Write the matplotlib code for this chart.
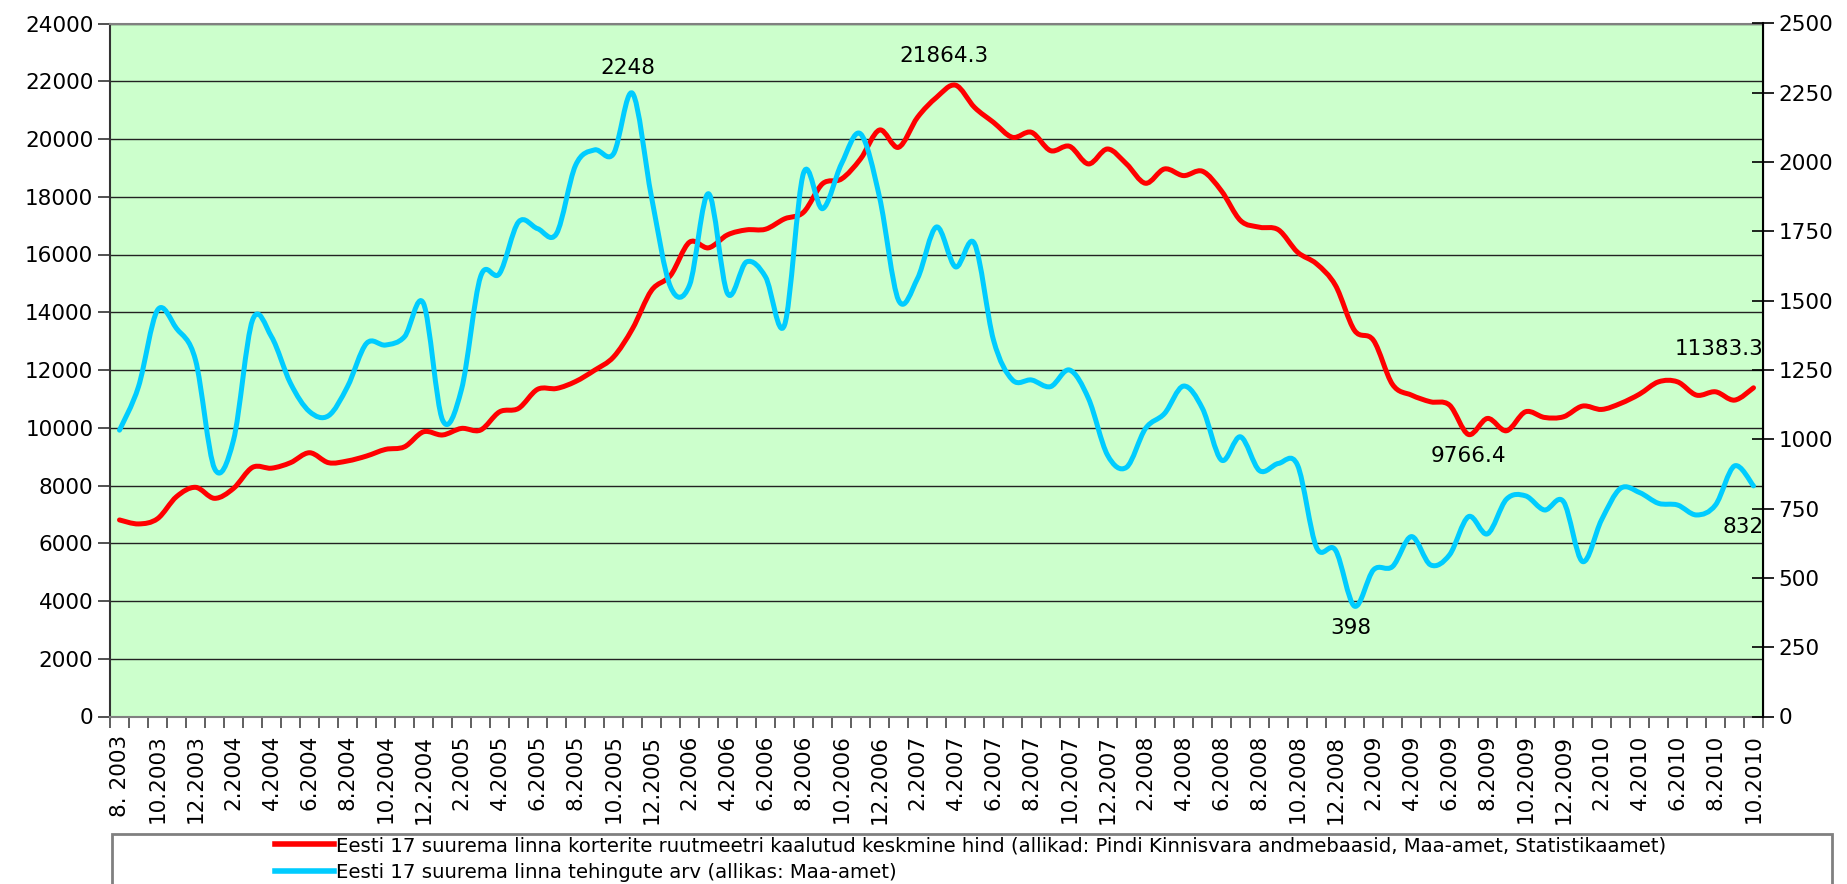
import numpy as np
import matplotlib
matplotlib.use("Agg")
import matplotlib.pyplot as plt
from matplotlib.path import Path
from matplotlib.patches import PathPatch, Rectangle
from matplotlib.lines import Line2D
from matplotlib.ticker import FixedLocator, MultipleLocator

# Kuine andmed 8.2003 .. 10.2010 (87 kuud)
hind = [6807, 6669, 6850, 7614, 7937, 7556, 7900, 8628, 8600, 8790,
        9135, 8790, 8850, 9020, 9250, 9340, 9860, 9750, 9977, 9920,
        10550, 10670, 11330, 11360, 11600, 11990, 12450, 13430, 14755, 15274,
        16427, 16231, 16680, 16853, 16876, 17234, 17464, 18450, 18617, 19309,
        20311, 19712, 20750, 21441, 21864.3, 21095, 20576, 20058, 20231, 19597,
        19747, 19136, 19654, 19136, 18467, 18963, 18732, 18882, 18200, 17176,
        16945, 16853, 16081, 15678, 14928, 13372, 13026, 11500, 11130, 10899,
        10784, 9766.4, 10323, 9896, 10553, 10357, 10380, 10750, 10634, 10841,
        11164, 11590, 11590, 11130, 11245, 10957, 11383.3]

tehingud = [1033, 1190, 1466, 1400, 1286, 895, 997, 1430, 1370, 1202,
            1100, 1085, 1190, 1346, 1340, 1370, 1490, 1070, 1180, 1586,
            1598, 1784, 1760, 1742, 1988, 2044, 2030, 2248, 1874, 1550,
            1556, 1886, 1526, 1640, 1586, 1412, 1960, 1832, 1994, 2102,
            1874, 1502, 1580, 1766, 1622, 1706, 1358, 1214, 1214, 1190,
            1250, 1147, 943, 899, 1039, 1093, 1192, 1111, 925, 1009,
            887, 913, 907, 610, 600, 398, 529, 541, 649, 547,
            583, 721, 659, 784, 796, 745, 775, 559, 709, 823,
            808, 769, 763, 727, 763, 904, 832]

kuu_sildid = ["8. 2003", "10.2003", "12.2003",
              "2.2004", "4.2004", "6.2004", "8.2004", "10.2004", "12.2004",
              "2.2005", "4.2005", "6.2005", "8.2005", "10.2005", "12.2005",
              "2.2006", "4.2006", "6.2006", "8.2006", "10.2006", "12.2006",
              "2.2007", "4.2007", "6.2007", "8.2007", "10.2007", "12.2007",
              "2.2008", "4.2008", "6.2008", "8.2008", "10.2008", "12.2008",
              "2.2009", "4.2009", "6.2009", "8.2009", "10.2009", "12.2009",
              "2.2010", "4.2010", "6.2010", "8.2010", "10.2010"]

silt_hind = "Eesti 17 suurema linna korterite ruutmeetri kaalutud keskmine hind (allikad: Pindi Kinnisvara andmebaasid, Maa-amet, Statistikaamet)"
silt_teh = "Eesti 17 suurema linna tehingute arv (allikas: Maa-amet)"

PUNANE = "#ff0000"
SININE = "#00ccff"


def sile_joon(x, y):
    """Excel'i 'smoothed line' - Bezier kaared labi andmepunktide."""
    x = np.asarray(x, float)
    y = np.asarray(y, float)
    px = np.concatenate([[x[0]], x, [x[-1]]])
    py = np.concatenate([[y[0]], y, [y[-1]]])
    verts = [(x[0], y[0])]
    codes = [Path.MOVETO]
    for i in range(len(x) - 1):
        c1 = (x[i] + (px[i + 2] - px[i]) / 6, y[i] + (py[i + 2] - py[i]) / 6)
        c2 = (x[i + 1] - (px[i + 3] - px[i + 1]) / 6,
              y[i + 1] - (py[i + 3] - py[i + 1]) / 6)
        verts += [c1, c2, (x[i + 1], y[i + 1])]
        codes += [Path.CURVE4] * 3
    return Path(verts, codes)


plt.rcParams["font.family"] = ["DejaVu Sans"]

fig = plt.figure(figsize=(18.47, 8.84), dpi=100)
ax = fig.add_axes([110 / 1847, 1 - 716.5 / 884, 1653 / 1847, 693 / 884])
ax2 = ax.twinx()

x = np.arange(len(hind))
ax.set_facecolor("#ccffcc")
ax.set_xlim(-0.5, len(hind) - 0.5)
ax.set_ylim(0, 24000)
ax2.set_ylim(0, 2500)

ax.add_patch(PathPatch(sile_joon(x, hind), facecolor="none", edgecolor=PUNANE,
                       lw=3.6, capstyle="round", joinstyle="round", zorder=3))
ax2.add_patch(PathPatch(sile_joon(x, tehingud), facecolor="none", edgecolor=SININE,
                        lw=3.6, capstyle="round", joinstyle="round", zorder=3))

# teljed
ax.yaxis.set_major_locator(MultipleLocator(2000))
ax.grid(axis="y", color="#222222", lw=1.0)
ax.set_axisbelow(True)
ax2.yaxis.set_major_locator(MultipleLocator(250))

ax.xaxis.set_major_locator(FixedLocator(x[::2]))
ax.set_xticklabels(kuu_sildid, rotation=90, fontsize=15.5)
ax.xaxis.set_minor_locator(FixedLocator(np.arange(-0.5, len(hind), 1)))
ax.tick_params(axis="x", which="major", length=0, pad=13)
ax.tick_params(axis="x", which="minor", length=8, width=1.2, color="#444444")
ax.tick_params(axis="y", length=9, width=1.2, labelsize=15.5, pad=3, color="#333333")
ax2.tick_params(axis="y", direction="inout", length=16, width=1.2, labelsize=15.5, pad=3)

for s in ["top", "bottom"]:
    ax.spines[s].set_color("#808080")
    ax.spines[s].set_linewidth(1.5)
ax.spines["left"].set_color("#333333")
ax.spines["left"].set_linewidth(1.5)
ax2.spines["right"].set_color("black")
ax2.spines["right"].set_linewidth(1.5)
for s in ["top", "bottom", "left"]:
    ax2.spines[s].set_visible(False)

# andmesildid
sildid = [
    (ax2, 27, tehingud[27], "2248", (-5, 25), "center"),
    (ax, 44, hind[44], "21864.3", (-12, 29), "center"),
    (ax, 71, hind[71], "9766.4", (0, -22), "center"),
    (ax2, 65, tehingud[65], "398", (-4, -22), "center"),
    (ax, 86, hind[86], "11383.3", (10, 39), "right"),
    (ax2, 86, tehingud[86], "832", (10, -41), "right"),
]
for a, xi, yi, txt, off, ha in sildid:
    a.annotate(txt, xy=(xi, yi), xytext=off, textcoords="offset pixels",
               ha=ha, va="center", fontsize=15.5, zorder=5)

# legend
fig.patches.append(Rectangle((112 / 1847, -0.05), 1720 / 1847, 50 / 884 + 0.05,
                             transform=fig.transFigure, facecolor="white",
                             edgecolor="#808080", lw=2, zorder=0))
kasitsejad = [Line2D([], [], color=PUNANE, lw=4),
              Line2D([], [], color=SININE, lw=4)]
fig.legend(kasitsejad, [silt_hind, silt_teh], loc="upper left",
           bbox_to_anchor=(275 / 1847, 1 - 836 / 884), frameon=False,
           fontsize=14.2, handlelength=3.0, handletextpad=0.1,
           labelspacing=0.42, borderpad=0, borderaxespad=0)

fig.savefig("out.png", dpi=100, facecolor="white")
